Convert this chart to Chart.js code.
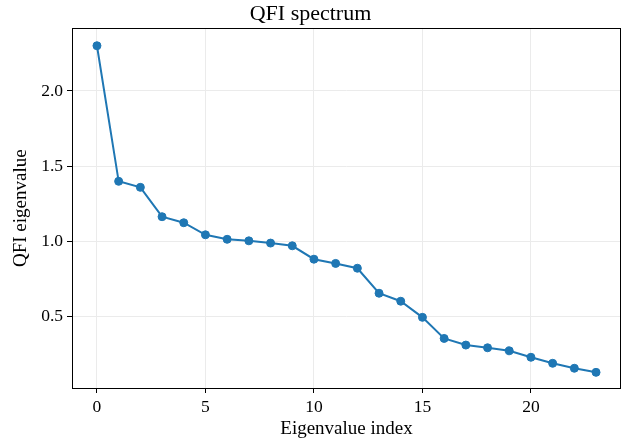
<!DOCTYPE html>
<html>
<head>
<meta charset="utf-8">
<script src="https://cdn.jsdelivr.net/npm/chart.js@4/dist/chart.umd.min.js"></script>
<style>
  html, body { margin: 0; padding: 0; background: #fff; }
  #wrap { width: 628px; height: 442px; }
</style>
</head>
<body>
<div id="wrap"><canvas id="c" width="628" height="442"></canvas></div>
<script>
// ---- data ----
const eigenIndex = [0,1,2,3,4,5,6,7,8,9,10,11,12,13,14,15,16,17,18,19,20,21,22,23];
const qfiEigenvalues = [2.30,1.40,1.36,1.165,1.125,1.045,1.015,1.005,0.99,0.972,0.883,0.855,0.823,0.657,0.604,0.497,0.357,0.313,0.295,0.275,0.232,0.192,0.159,0.132];
const xTickValues = [0,5,10,15,20];
const yTickValues = [0.5,1.0,1.5,2.0];
const titleText = 'QFI spectrum';
const xLabel = 'Eigenvalue index';
const yLabel = 'QFI eigenvalue';

const FONT = "'Liberation Serif', 'Times New Roman', serif";
const LINE = '#1f77b4';

const frame = {
  id: 'frame',
  afterDraw(chart) {
    const {ctx, chartArea: a} = chart;
    ctx.save();
    ctx.strokeStyle = '#000';
    ctx.lineWidth = 1;
    ctx.strokeRect(Math.round(a.left) + 0.5, Math.round(a.top) + 0.5,
                   Math.round(a.right - a.left) - 1, Math.round(a.bottom - a.top));
    ctx.restore();
  }
};

new Chart(document.getElementById('c'), {
  type: 'line',
  data: {
    datasets: [{
      data: eigenIndex.map((x, i) => ({x: x, y: qfiEigenvalues[i]})),
      borderColor: LINE,
      backgroundColor: LINE,
      borderWidth: 2,
      pointRadius: 4,
      pointBorderWidth: 1,
      pointBackgroundColor: LINE,
      pointBorderColor: LINE,
      tension: 0,
      fill: false
    }]
  },
  options: {
    responsive: false,
    animation: false,
    layout: { padding: { left: 0, right: 7, top: 0, bottom: 0 } },
    plugins: {
      legend: { display: false },
      tooltip: { enabled: false },
      title: {
        display: true,
        text: titleText,
        color: '#000',
        font: { family: FONT, size: 22, weight: 'normal' },
        padding: { top: 1, bottom: 1 }
      }
    },
    scales: {
      x: {
        type: 'linear',
        min: -1.15,
        max: 24.15,
        afterBuildTicks: s => { s.ticks = xTickValues.map(v => ({value: v})); },
        afterFit: s => { s.height = 54; },
        ticks: {
          color: '#000',
          font: { family: FONT, size: 17.5 },
          padding: 4,
          maxRotation: 0,
          callback: v => String(v)
        },
        grid: { color: '#ebebeb', lineWidth: 1, tickLength: 5, tickColor: '#000', drawTicks: true },
        border: { display: false },
        title: {
          display: true,
          text: xLabel,
          color: '#000',
          font: { family: FONT, size: 19 },
          padding: { top: 0, bottom: 2 }
        }
      },
      y: {
        type: 'linear',
        min: 0.028,
        max: 2.415,
        afterBuildTicks: s => { s.ticks = yTickValues.map(v => ({value: v})); },
        afterFit: s => { s.width = 72; },
        ticks: {
          color: '#000',
          font: { family: FONT, size: 17.5 },
          padding: 4,
          callback: v => Number(v).toFixed(1)
        },
        grid: { color: '#ebebeb', lineWidth: 1, tickLength: 5, tickColor: '#000', drawTicks: true },
        border: { display: false },
        title: {
          display: true,
          text: yLabel,
          color: '#000',
          font: { family: FONT, size: 19 },
          padding: { top: 10, bottom: 0 }
        }
      }
    }
  },
  plugins: [frame]
});
</script>
</body>
</html>
